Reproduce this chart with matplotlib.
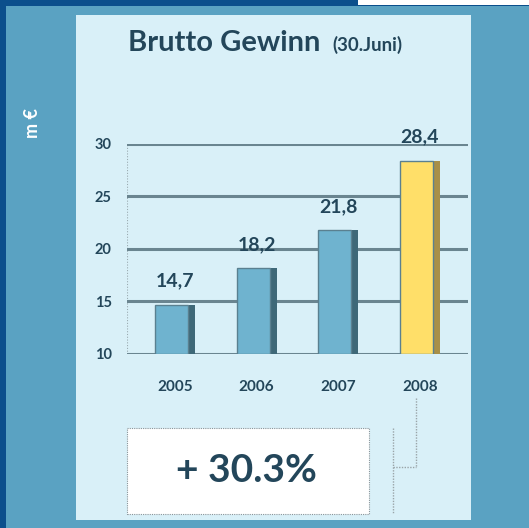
import matplotlib
matplotlib.use("Agg")
import matplotlib.pyplot as plt
from matplotlib.patches import Rectangle
from matplotlib.lines import Line2D

years = ["2005", "2006", "2007", "2008"]
values = [14.7, 18.2, 21.8, 28.4]
value_labels = ["14,7", "18,2", "21,8", "28,4"]
yticks = [10, 15, 20, 25, 30]
title = "Brutto Gewinn"
subtitle = "(30.Juni)"
unit = "m €"
growth = "+ 30.3%"

W, H = 529, 528
plt.rcParams['font.family'] = ['Lato', 'DejaVu Sans']
fig = plt.figure(figsize=(W / 100, H / 100), dpi=100)
fig.patch.set_facecolor("#0b4f8c")

def px_rect(x0, y0, x1, y1, z=-10, **kw):
    r = Rectangle((x0 / W, 1 - y1 / H), (x1 - x0) / W, (y1 - y0) / H,
                  transform=fig.transFigure, zorder=z, **kw)
    fig.add_artist(r)
    return r

def px_line(xs, ys, **kw):
    l = Line2D([x / W for x in xs], [1 - y / H for y in ys],
               transform=fig.transFigure, zorder=5, **kw)
    fig.add_artist(l)

# backgrounds
px_rect(358, 0, W, 5, facecolor="white", edgecolor="none")
px_rect(6, 6, W, H, facecolor="#5aa2c2", edgecolor="none")
px_rect(76, 15, 471, 520, facecolor="#d9f0f8", edgecolor="none")

text_col = "#23465a"

# axes
ax_left, ax_right, ax_top, ax_bot = 127, 468, 144, 354
ax = fig.add_axes([ax_left / W, 1 - ax_bot / H, (ax_right - ax_left) / W, (ax_bot - ax_top) / H])
ax.set_facecolor("none")
ax.set_ylim(10, 30)
ax.set_xlim(-0.545, 3.63)
for s in ax.spines.values():
    s.set_visible(False)
ax.axvline(ax.get_xlim()[0], color="#9aaab0", lw=0.8, ls=(0, (1, 1.5)), zorder=1)
for t in yticks:
    ax.axhline(t, color="#6a8590", lw=2.2, zorder=1)

face_w = 0.404
shade_w = 0.086
faces = ["#6fb3cf", "#6fb3cf", "#6fb3cf", "#ffdf69"]
shades = ["#3e6878", "#3e6878", "#3e6878", "#a88f48"]
xs = list(range(len(years)))
ax.bar([x + face_w / 2 for x in xs], [v - 10 for v in values], width=shade_w, bottom=10,
       align="edge", color=shades, edgecolor="none", zorder=2)
ax.bar(xs, [v - 10 for v in values], width=face_w, bottom=10,
       color=faces, edgecolor="#5a8090", linewidth=1.0, zorder=3)
for x, v, lab in zip(xs, values, value_labels):
    ax.text(x + 0.04, v + 2.25, lab, ha="center", va="center", fontsize=14,
            fontweight="bold", color=text_col)

ax.set_yticks(yticks)
ax.set_yticklabels([str(t) for t in yticks], fontsize=10.5, fontweight="bold", color=text_col)
ax.set_xticks([x + 0.04 for x in xs])
ax.set_xticklabels(years, fontsize=11, fontweight="bold", color=text_col)
ax.tick_params(axis="both", length=0)
ax.tick_params(axis="y", pad=11)
ax.tick_params(axis="x", pad=19)

# titles
fig.text(128 / W, 1 - 43 / H, title, fontsize=21, fontweight="bold", color=text_col,
         ha="left", va="center")
fig.text(332 / W, 1 - 45 / H, subtitle, fontsize=13.5, fontweight="bold", color=text_col,
         ha="left", va="center")
fig.text(32 / W, 1 - 123 / H, unit, fontsize=13, fontweight="bold", color="white",
         rotation=90, ha="center", va="center")

# growth box
px_rect(127, 428, 369, 514, z=4, facecolor="white", edgecolor="#8a959a", lw=0.8, ls=(0, (1, 1)))
fig.text(246 / W, 1 - 470 / H, growth, fontsize=28, fontweight="bold", color=text_col,
         ha="center", va="center", zorder=6)

# bracket
bk = dict(color="#9aa4a8", lw=1.0, ls=(0, (1, 1)))
px_line([393, 393], [428, 513], **bk)
px_line([393, 416], [467, 467], **bk)
px_line([416, 416], [398, 467], **bk)

fig.savefig("out.png", dpi=100, facecolor=fig.get_facecolor())
